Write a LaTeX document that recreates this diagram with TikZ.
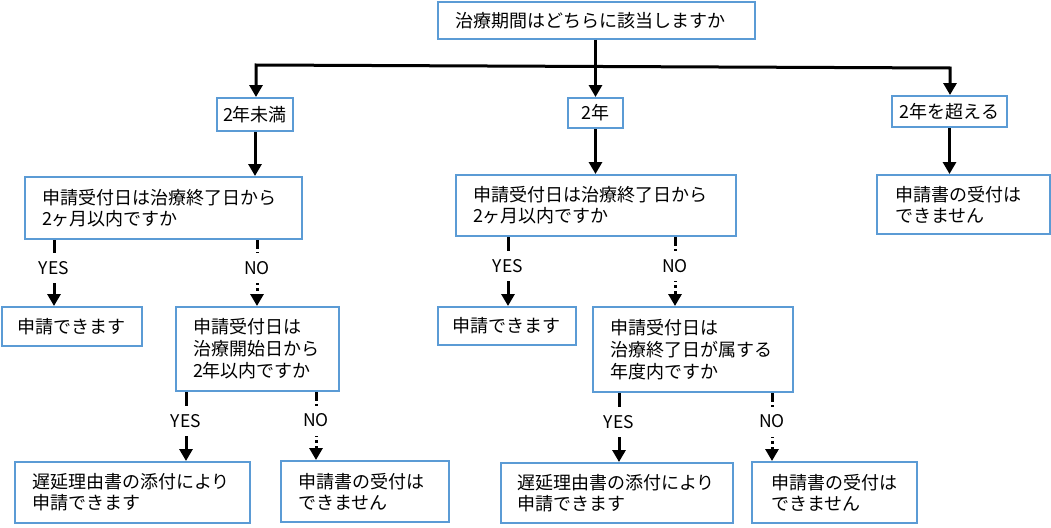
\documentclass[tikz,border=0pt]{standalone}
\usepackage{fontspec}
\setmainfont{Noto Sans CJK JP}
\usetikzlibrary{arrows.meta}
\definecolor{boxblue}{HTML}{5B9BD5}
\begin{document}
\begin{tikzpicture}[x=1pt,y=-1pt,
 box/.style={draw=boxblue, line width=2pt, fill=white, align=left, inner ysep=0pt, font=\fontsize{18}{21}\selectfont},
 cbox/.style={box, align=center, inner xsep=0pt},
 conn/.style={line width=3pt, -{Triangle[width=13pt,length=12pt]}},
 noconn/.style={conn, dash pattern=on 9pt off 3pt on 3pt off 3pt},
 lbl/.style={fill=white, inner xsep=1pt, inner ysep=0pt, minimum height=30pt, font=\fontsize{17.5}{19}\selectfont, pos=0.42}]
\useasboundingbox (0,0) rectangle (1051,527);

% boxes
\node[box, minimum width=317pt, text width=283pt, inner xsep=17pt, minimum height=37pt] (top) at (596.5,20.5) {治療期間はどちらに該当しますか};
\node[cbox, minimum width=76pt, minimum height=33pt] (lt) at (255,114.5) {2年未満};
\node[cbox, minimum width=55pt, minimum height=30pt] (two) at (595.5,113) {2年};
\node[cbox, minimum width=115pt, minimum height=31pt] (gt) at (949.5,111.5) {2年を超える};

\node[box, text width=243pt, inner xsep=17pt, minimum height=62pt] (q1L) at (163.5,208) {申請受付日は治療終了日から\\2ヶ月以内ですか};
\node[box, text width=246pt, inner xsep=17pt, minimum height=61pt] (q1M) at (596,205.5) {申請受付日は治療終了日から\\2ヶ月以内ですか};
\node[box, text width=137pt, inner xsep=18pt, minimum height=59pt] (rno) at (963.5,204.5) {申請書の受付は\\できません};

\node[box, text width=110pt, inner xsep=15pt, minimum height=39pt] (yesL) at (72,326.5) {申請できます};
\node[box, text width=129pt, inner xsep=17pt, minimum height=84pt, font=\fontsize{18}{22}\selectfont] (q2L) at (257.5,349) {申請受付日は\\治療開始日から\\2年以内ですか};
\node[box, text width=110pt, inner xsep=14pt, minimum height=38pt] (yesM) at (507,326) {申請できます};
\node[box, text width=166pt, inner xsep=17pt, minimum height=85pt, font=\fontsize{18}{22}\selectfont] (q2M) at (693,349.5) {申請受付日は\\治療終了日が属する\\年度内ですか};

\node[box, text width=201pt, inner xsep=17pt, minimum height=61pt] (y2L) at (132.5,492.5) {遅延理由書の添付により\\申請できます};
\node[box, text width=134pt, inner xsep=17pt, minimum height=61pt] (n2L) at (365,491.5) {申請書の受付は\\できません};
\node[box, text width=200pt, inner xsep=16pt, minimum height=60pt] (y2M) at (617,493) {遅延理由書の添付により\\申請できます};
\node[box, text width=127pt, inner xsep=19pt, minimum height=61pt] (n2M) at (834.5,492.5) {申請書の受付は\\できません};

% top distribution
\coordinate (hl) at (256,65);
\coordinate (hr) at (950,68);
\draw[conn] (top.south -| two.north) -- (two.north);
\draw[line width=3pt, {Triangle[width=13pt,length=12pt]}-{Triangle[width=13pt,length=12pt]}] (hl |- lt.north) -- (hl) -- (hr) -- (hr |- gt.north);
\draw[conn] (lt.south) -- (lt.south |- q1L.north);
\draw[conn] (two.south) -- (two.south |- q1M.north);
\draw[conn] (gt.south) -- (gt.south |- rno.north);

% yes / no branches
\coordinate (xa) at (54,0);
\coordinate (xb) at (257,0);
\coordinate (xc) at (186,0);
\coordinate (xd) at (316,0);
\coordinate (xe) at (508,0);
\coordinate (xf) at (675,0);
\coordinate (xg) at (619,0);
\coordinate (xh) at (772,0);

\draw[conn] (q1L.south -| xa) -- node[lbl]{YES} (yesL.north -| xa);
\draw[noconn] (q1L.south -| xb) -- node[lbl]{NO} (q2L.north -| xb);
\draw[conn] (q2L.south -| xc) -- node[lbl]{YES} (y2L.north -| xc);
\draw[noconn] (q2L.south -| xd) -- node[lbl]{NO} (n2L.north -| xd);

\draw[conn] (q1M.south -| xe) -- node[lbl]{YES} (yesM.north -| xe);
\draw[noconn] (q1M.south -| xf) -- node[lbl]{NO} (q2M.north -| xf);
\draw[conn] (q2M.south -| xg) -- node[lbl]{YES} (y2M.north -| xg);
\draw[noconn] (q2M.south -| xh) -- node[lbl]{NO} (n2M.north -| xh);
\end{tikzpicture}
\end{document}
